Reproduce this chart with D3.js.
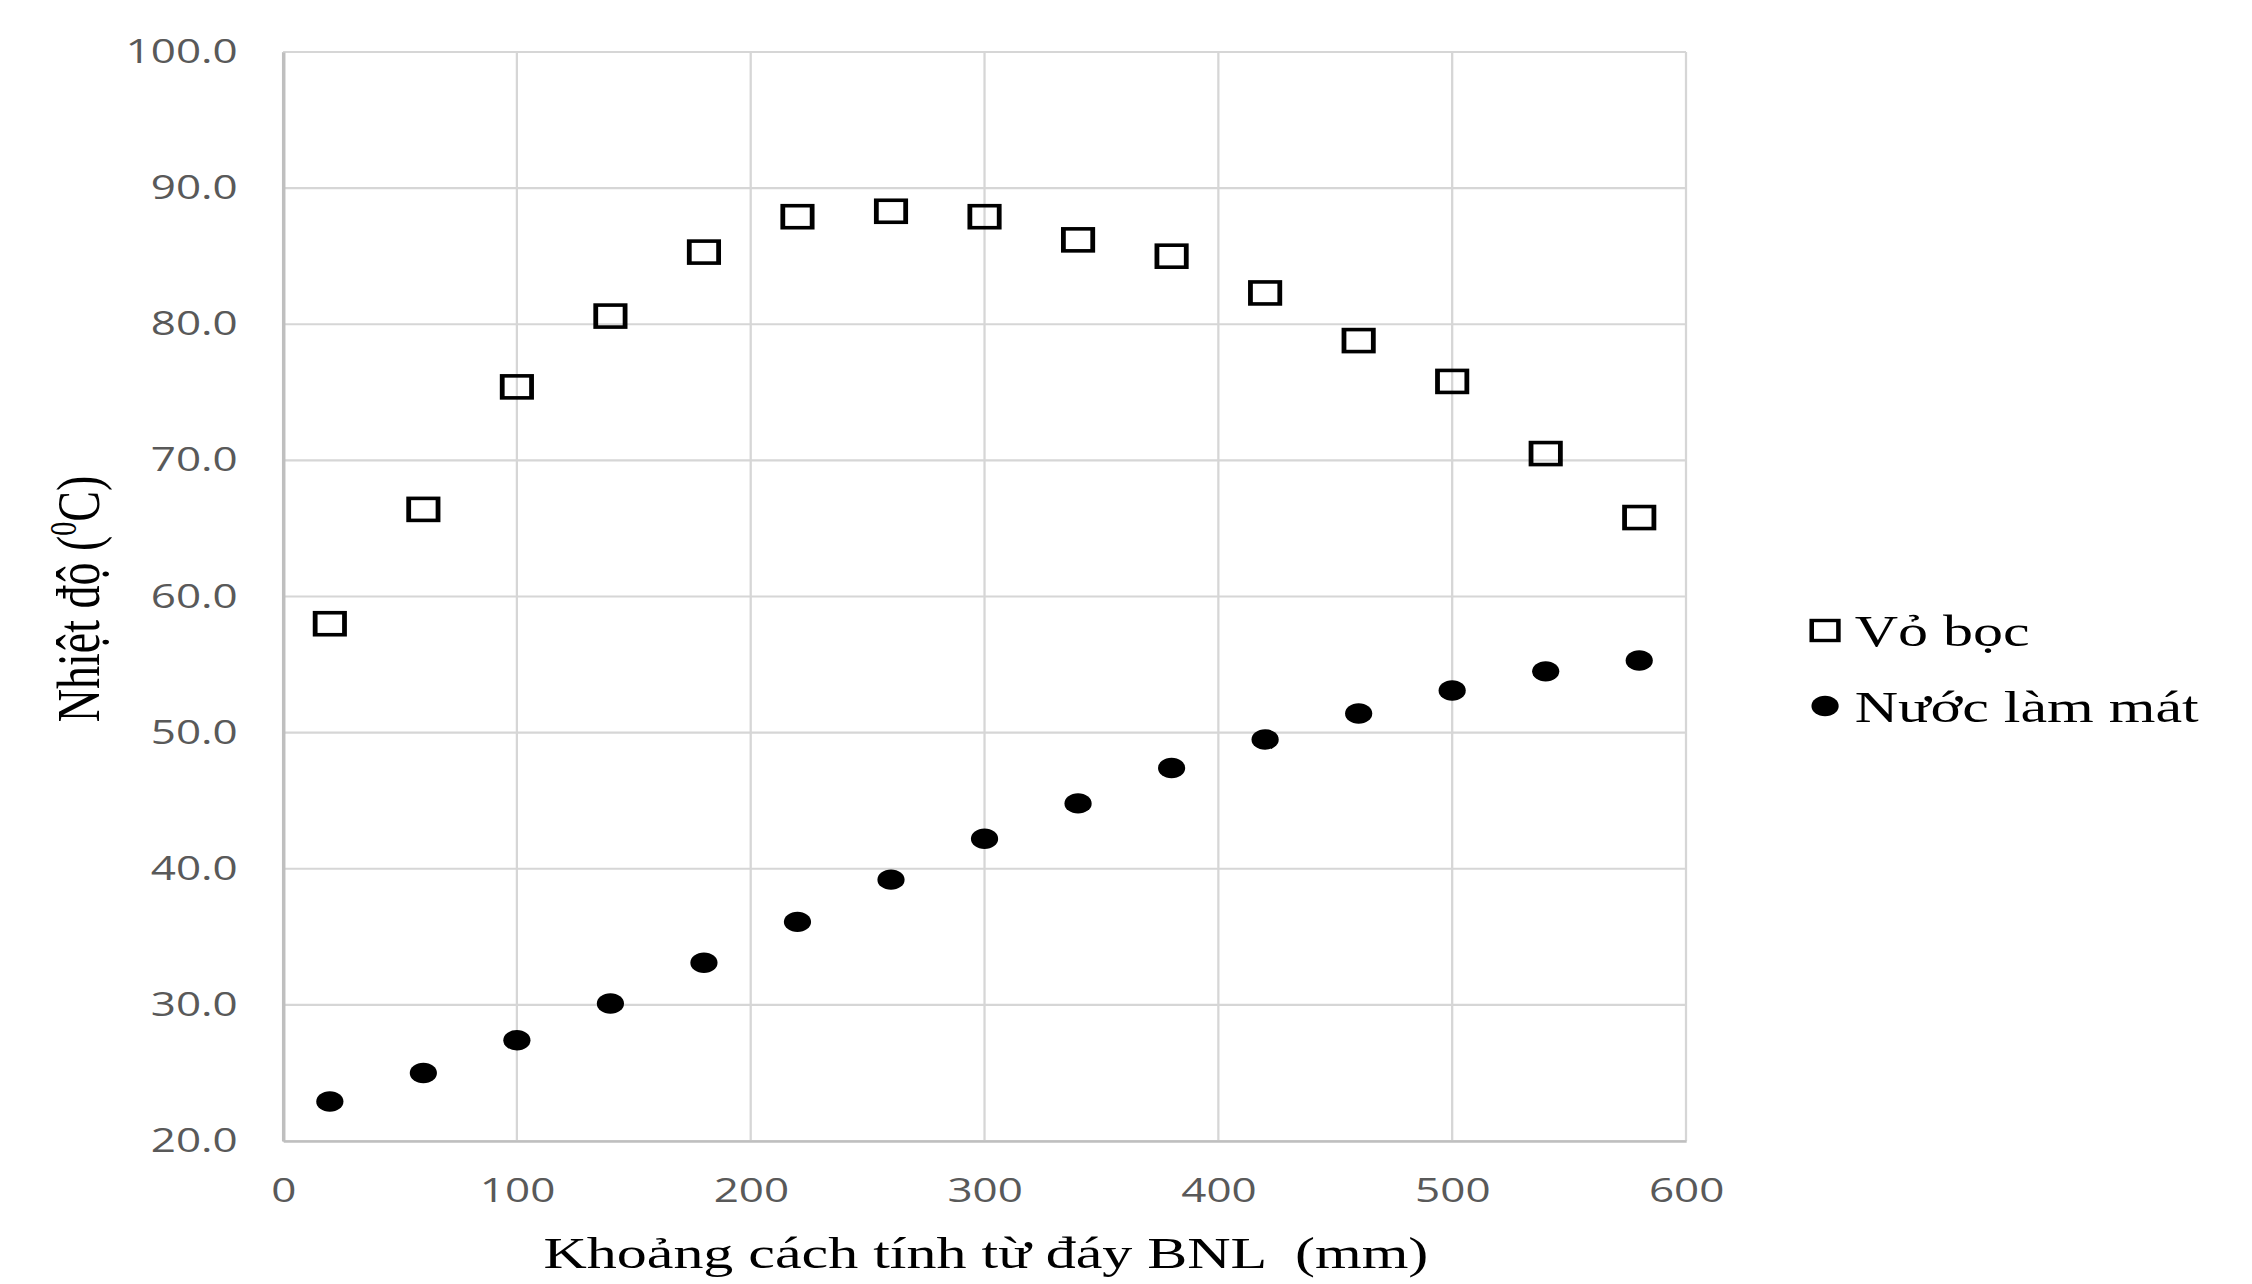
<!DOCTYPE html>
<html>
<head>
<meta charset="utf-8">
<script src="https://cdn.jsdelivr.net/npm/d3@7"></script>
<style>
  html, body { margin: 0; padding: 0; background: #ffffff; }
  svg { display: block; }
  text.pre { white-space: pre; }
</style>
</head>
<body>
<svg id="chart" width="2252" height="1284"></svg>
<script>
// ---- Data ----
const positions = [20, 60, 100, 140, 180, 220, 260, 300, 340, 380, 420, 460, 500, 540, 580];
const voBoc = [58.0, 66.4, 75.4, 80.6, 85.3, 87.9, 88.3, 87.9, 86.2, 85.0, 82.3, 78.8, 75.8, 70.5, 65.8];
const nuocLamMat = [22.9, 25.0, 27.4, 30.1, 33.1, 36.1, 39.2, 42.2, 44.8, 47.4, 49.5, 51.4, 53.1, 54.5, 55.3];
const xTicks = [0, 100, 200, 300, 400, 500, 600];
const yTicks = [20, 30, 40, 50, 60, 70, 80, 90, 100];
const seriesNames = ["Vỏ bọc", "Nước làm mát"];
const xTitle = "Khoảng cách tính từ đáy BNL  (mm)";

(function () {
// ---- Layout (inner coordinates; whole drawing stretched horizontally) ----
const stretch = 4 / 3;
const pL = 212.3, pR = 1264.5, pT = 52, pB = 1141;

const svg = d3.select("#chart");
const root = svg.append("g").attr("transform", `scale(${stretch},1)`);

const x = d3.scaleLinear().domain([0, 600]).range([pL, pR]);
const y = d3.scaleLinear().domain([20, 100]).range([pB, pT]);

// gridlines
const grid = root.append("g");
grid.selectAll("line.h").data(yTicks).join("line")
  .attr("x1", pL).attr("x2", pR)
  .attr("y1", d => y(d)).attr("y2", d => y(d))
  .attr("stroke", "#d6d6d6").attr("stroke-width", 2.2);
grid.selectAll("line.v").data(xTicks).join("line")
  .attr("x1", d => x(d)).attr("x2", d => x(d))
  .attr("y1", pT).attr("y2", pB)
  .attr("stroke", "#d6d6d6").attr("stroke-width", 1.7);

// axes
const yAxis = root.append("g")
  .attr("transform", `translate(${pL},0)`)
  .call(d3.axisLeft(y).tickValues(yTicks).tickFormat(d3.format(".1f")).tickSize(0).tickPadding(34));
const xAxis = root.append("g")
  .attr("transform", `translate(0,${pB})`)
  .call(d3.axisBottom(x).tickValues(xTicks).tickFormat(d3.format("d")).tickSize(0).tickPadding(38));

[yAxis, xAxis].forEach(g => {
  g.select(".domain").attr("stroke", "#bfbfbf").attr("stroke-width", 2.6);
  g.selectAll("text")
    .attr("font-family", "'Open Sans', sans-serif")
    .attr("font-size", 33)
    .attr("fill", "#595959");
});

// Series: Vỏ bọc (open squares)
const sq = 22;
root.append("g").selectAll("rect").data(positions.map((p, i) => [p, voBoc[i]])).join("rect")
  .attr("x", d => x(d[0]) - sq / 2)
  .attr("y", d => y(d[1]) - sq / 2)
  .attr("width", sq).attr("height", sq)
  .attr("fill", "none").attr("stroke", "#000").attr("stroke-width", 3.6);

// Series: Nước làm mát (filled circles)
root.append("g").selectAll("circle").data(positions.map((p, i) => [p, nuocLamMat[i]])).join("circle")
  .attr("cx", d => x(d[0])).attr("cy", d => y(d[1]))
  .attr("r", 10.2).attr("fill", "#000");

// Axis titles
root.append("text")
  .attr("class", "pre")
  .attr("x", (pL + pR) / 2 + 1).attr("y", 1268)
  .attr("text-anchor", "middle")
  .attr("font-family", "'Liberation Serif', 'Times New Roman', serif")
  .attr("font-size", 45).attr("fill", "#000")
  .text(xTitle);

const yt = root.append("text")
  .attr("transform", `translate(74,599) rotate(-90)`)
  .attr("text-anchor", "middle")
  .attr("font-family", "'Liberation Serif', 'Times New Roman', serif")
  .attr("font-size", 46).attr("fill", "#000");
yt.append("tspan").text("Nhiệt độ (");
yt.append("tspan").attr("font-size", 28).attr("dy", -17).text("0");
yt.append("tspan").attr("dy", 17).text("C)");

// Legend
const lg = root.append("g");
const lgX = 1368.8;
const lgRows = [630.5, 706];
lg.append("rect")
  .attr("x", lgX - 10).attr("y", lgRows[0] - 10)
  .attr("width", 20).attr("height", 20)
  .attr("fill", "none").attr("stroke", "#000").attr("stroke-width", 3.4);
lg.append("circle").attr("cx", lgX).attr("cy", lgRows[1]).attr("r", 10.2).attr("fill", "#000");
lg.selectAll("text").data(seriesNames).join("text")
  .attr("x", 1391)
  .attr("y", (d, i) => lgRows[i] + 16)
  .attr("font-family", "'Liberation Serif', 'Times New Roman', serif")
  .attr("font-size", 45).attr("fill", "#000")
  .text(d => d);
})();
</script>
</body>
</html>
